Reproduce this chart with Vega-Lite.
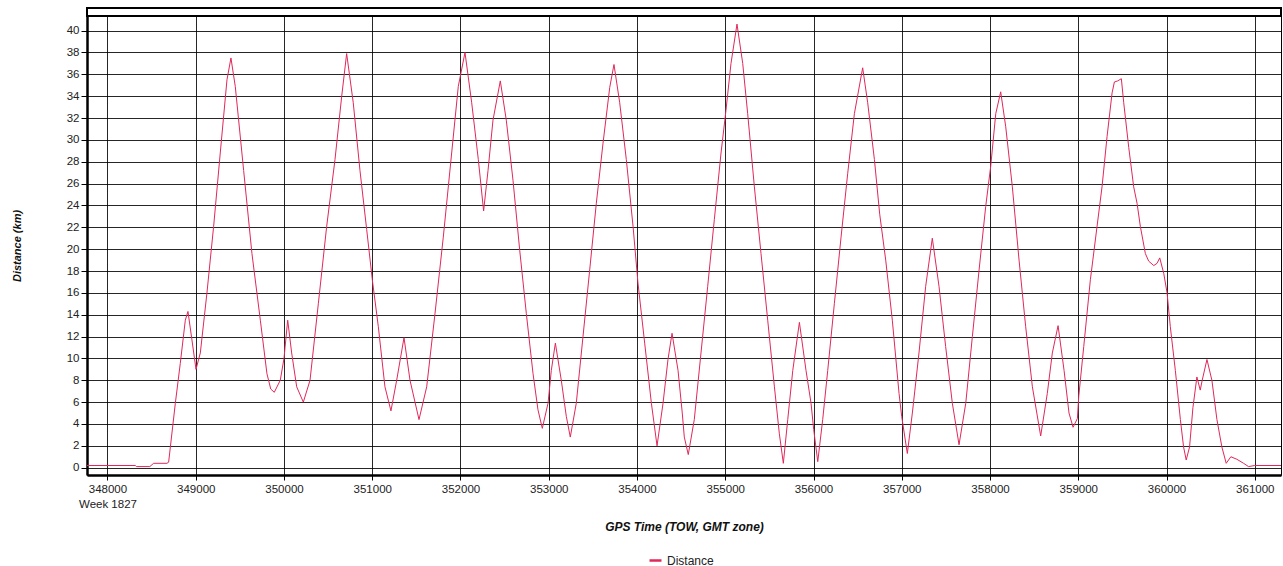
{
  "$schema": "https://vega.github.io/schema/vega-lite/v6.json",
  "autosize": "none",
  "width": 1194,
  "height": 459,
  "padding": {"left": 87, "top": 16, "right": 2, "bottom": 91},
  "background": "white",
  "config": {
    "font": "Liberation Sans",
    "view": {"stroke": "#000", "strokeWidth": 1},
    "axis": {
      "labelFont": "Liberation Sans",
      "labelFontSize": 11.5,
      "labelColor": "#222",
      "labelFlush": false,
      "labelOverlap": false,
      "titleFont": "Liberation Sans",
      "titleFontWeight": "bold",
      "titleFontStyle": "italic",
      "titleColor": "#111",
      "gridColor": "#000",
      "gridOpacity": 0.85,
      "gridWidth": 1,
      "domainColor": "#000",
      "domainWidth": 2.5,
      "tickColor": "#000",
      "tickSize": 6
    }
  },
  "data": {"values": [
    {"t": 347768, "d": 0.2}, {"t": 348315, "d": 0.2}, {"t": 348330, "d": 0.1}, {"t": 348480, "d": 0.1},
    {"t": 348523, "d": 0.4}, {"t": 348674, "d": 0.4}, {"t": 348693, "d": 0.5}, {"t": 348769, "d": 5.9},
    {"t": 348825, "d": 9.55}, {"t": 348882, "d": 13.5}, {"t": 348912, "d": 14.3}, {"t": 348957, "d": 11.7},
    {"t": 349003, "d": 9.0}, {"t": 349052, "d": 10.5}, {"t": 349127, "d": 16.0}, {"t": 349203, "d": 22.1},
    {"t": 349278, "d": 28.8}, {"t": 349354, "d": 35.5}, {"t": 349399, "d": 37.5}, {"t": 349448, "d": 34.9},
    {"t": 349543, "d": 27.2}, {"t": 349637, "d": 19.6}, {"t": 349732, "d": 13.5}, {"t": 349807, "d": 8.6},
    {"t": 349850, "d": 7.2}, {"t": 349890, "d": 6.9}, {"t": 349958, "d": 8.0}, {"t": 350000, "d": 10.0},
    {"t": 350012, "d": 11.0}, {"t": 350042, "d": 13.5}, {"t": 350087, "d": 10.5}, {"t": 350144, "d": 7.4},
    {"t": 350219, "d": 6.0}, {"t": 350295, "d": 8.0}, {"t": 350389, "d": 15.0}, {"t": 350484, "d": 22.1},
    {"t": 350578, "d": 28.2}, {"t": 350654, "d": 34.0}, {"t": 350710, "d": 37.9}, {"t": 350785, "d": 33.4},
    {"t": 350861, "d": 27.2}, {"t": 350937, "d": 21.8}, {"t": 351001, "d": 17.2}, {"t": 351069, "d": 12.9},
    {"t": 351144, "d": 7.4}, {"t": 351212, "d": 5.2}, {"t": 351277, "d": 8.0}, {"t": 351360, "d": 11.9},
    {"t": 351428, "d": 8.0}, {"t": 351530, "d": 4.4}, {"t": 351617, "d": 7.4}, {"t": 351711, "d": 14.1},
    {"t": 351805, "d": 21.1}, {"t": 351900, "d": 28.8}, {"t": 351975, "d": 34.9}, {"t": 352051, "d": 38.0},
    {"t": 352127, "d": 33.4}, {"t": 352202, "d": 28.2}, {"t": 352262, "d": 23.5}, {"t": 352312, "d": 27.2},
    {"t": 352368, "d": 31.8}, {"t": 352451, "d": 35.4}, {"t": 352519, "d": 31.8}, {"t": 352595, "d": 26.3},
    {"t": 352671, "d": 19.9}, {"t": 352746, "d": 14.1}, {"t": 352822, "d": 8.6}, {"t": 352878, "d": 5.3},
    {"t": 352927, "d": 3.6}, {"t": 352992, "d": 5.9}, {"t": 353029, "d": 8.9}, {"t": 353075, "d": 11.4},
    {"t": 353142, "d": 8.0}, {"t": 353199, "d": 4.7}, {"t": 353244, "d": 2.8}, {"t": 353312, "d": 5.9},
    {"t": 353388, "d": 12.0}, {"t": 353464, "d": 18.1}, {"t": 353539, "d": 24.2}, {"t": 353615, "d": 29.7},
    {"t": 353691, "d": 34.8}, {"t": 353739, "d": 36.9}, {"t": 353804, "d": 33.4}, {"t": 353879, "d": 28.2},
    {"t": 353955, "d": 22.1}, {"t": 354011, "d": 16.9}, {"t": 354087, "d": 11.4}, {"t": 354163, "d": 5.9},
    {"t": 354227, "d": 2.0}, {"t": 354295, "d": 5.9}, {"t": 354351, "d": 9.9}, {"t": 354397, "d": 12.3},
    {"t": 354465, "d": 8.9}, {"t": 354513, "d": 5.0}, {"t": 354536, "d": 2.8}, {"t": 354581, "d": 1.2},
    {"t": 354649, "d": 4.4}, {"t": 354725, "d": 10.5}, {"t": 354801, "d": 16.6}, {"t": 354876, "d": 22.7},
    {"t": 354952, "d": 28.8}, {"t": 355008, "d": 32.7}, {"t": 355065, "d": 37.0}, {"t": 355133, "d": 40.6},
    {"t": 355198, "d": 37.0}, {"t": 355254, "d": 32.4}, {"t": 355330, "d": 25.7}, {"t": 355405, "d": 19.6},
    {"t": 355481, "d": 13.5}, {"t": 355557, "d": 7.4}, {"t": 355613, "d": 3.1}, {"t": 355658, "d": 0.4},
    {"t": 355708, "d": 4.4}, {"t": 355765, "d": 8.9}, {"t": 355840, "d": 13.3}, {"t": 355915, "d": 8.9},
    {"t": 355972, "d": 5.9}, {"t": 356002, "d": 3.5}, {"t": 356048, "d": 0.55}, {"t": 356104, "d": 4.4},
    {"t": 356161, "d": 8.9}, {"t": 356236, "d": 15.0}, {"t": 356312, "d": 21.1}, {"t": 356387, "d": 26.9},
    {"t": 356463, "d": 32.4}, {"t": 356557, "d": 36.6}, {"t": 356614, "d": 33.4}, {"t": 356690, "d": 28.2},
    {"t": 356750, "d": 23.2}, {"t": 356818, "d": 19.0}, {"t": 356893, "d": 13.5}, {"t": 356969, "d": 6.8},
    {"t": 356999, "d": 4.7}, {"t": 357063, "d": 1.3}, {"t": 357120, "d": 5.0}, {"t": 357195, "d": 10.5},
    {"t": 357271, "d": 16.6}, {"t": 357346, "d": 21.0}, {"t": 357422, "d": 16.6}, {"t": 357497, "d": 11.1},
    {"t": 357573, "d": 5.9}, {"t": 357649, "d": 2.1}, {"t": 357725, "d": 5.9}, {"t": 357800, "d": 12.0},
    {"t": 357876, "d": 18.1}, {"t": 357951, "d": 23.9}, {"t": 358008, "d": 27.6}, {"t": 358065, "d": 32.4},
    {"t": 358121, "d": 34.4}, {"t": 358178, "d": 31.2}, {"t": 358253, "d": 25.7}, {"t": 358329, "d": 19.0},
    {"t": 358404, "d": 12.9}, {"t": 358480, "d": 7.4}, {"t": 358574, "d": 2.9}, {"t": 358649, "d": 6.8},
    {"t": 358706, "d": 10.5}, {"t": 358771, "d": 13.0}, {"t": 358839, "d": 8.9}, {"t": 358895, "d": 5.0},
    {"t": 358941, "d": 3.7}, {"t": 358990, "d": 4.5}, {"t": 359005, "d": 6.5}, {"t": 359062, "d": 11.1},
    {"t": 359137, "d": 17.2}, {"t": 359213, "d": 22.1}, {"t": 359269, "d": 25.7}, {"t": 359326, "d": 30.3},
    {"t": 359383, "d": 34.3}, {"t": 359409, "d": 35.3}, {"t": 359447, "d": 35.4}, {"t": 359488, "d": 35.6},
    {"t": 359515, "d": 33.4}, {"t": 359572, "d": 29.3}, {"t": 359628, "d": 25.7}, {"t": 359666, "d": 24.2},
    {"t": 359703, "d": 22.1}, {"t": 359760, "d": 19.6}, {"t": 359798, "d": 18.9}, {"t": 359855, "d": 18.5},
    {"t": 359892, "d": 18.7}, {"t": 359923, "d": 19.2}, {"t": 359968, "d": 17.8}, {"t": 360006, "d": 16.0},
    {"t": 360043, "d": 12.9}, {"t": 360100, "d": 8.9}, {"t": 360157, "d": 4.4}, {"t": 360193, "d": 1.9},
    {"t": 360223, "d": 0.7}, {"t": 360261, "d": 1.9}, {"t": 360299, "d": 5.5}, {"t": 360344, "d": 8.3},
    {"t": 360382, "d": 7.1}, {"t": 360404, "d": 8.0}, {"t": 360458, "d": 9.9}, {"t": 360514, "d": 8.0},
    {"t": 360571, "d": 4.4}, {"t": 360627, "d": 1.9}, {"t": 360676, "d": 0.4}, {"t": 360729, "d": 1.0},
    {"t": 360797, "d": 0.77}, {"t": 360873, "d": 0.4}, {"t": 360929, "d": 0.1}, {"t": 361000, "d": 0.2},
    {"t": 361297, "d": 0.2}
  ]},
  "layer": [
    {
      "mark": {"type": "rect", "fill": null, "stroke": "#000", "strokeWidth": 2},
      "encoding": {
        "x": {"datum": 347768, "type": "quantitative"},
        "x2": {"datum": 361297},
        "y": {"datum": 41.34, "type": "quantitative"},
        "y2": {"datum": 42.07}
      }
    },
    {
      "mark": {"type": "line", "strokeWidth": 1, "interpolate": "linear"},
      "encoding": {
        "x": {
          "field": "t", "type": "quantitative",
          "scale": {"domain": [347768, 361297], "nice": false, "zero": false},
          "axis": {
            "title": "GPS Time (TOW, GMT zone)",
            "titleFontSize": 12,
            "titlePadding": 12,
            "values": [348000, 349000, 350000, 351000, 352000, 353000, 354000, 355000, 356000, 357000, 358000, 359000, 360000, 361000],
            "tickCount": 30,
            "format": "d",
            "labelPadding": 3,
            "tickSize": 5,
            "labelOverlap": false,
            "labelLineHeight": 15,
            "labelExpr": "datum.value == 348000 ? ['348000', 'Week 1827'] : datum.label",
            "grid": true
          }
        },
        "y": {
          "field": "d", "type": "quantitative",
          "scale": {"domain": [-0.67, 41.34], "nice": false, "zero": false},
          "axis": {
            "title": "Distance (km)",
            "titleFontSize": 11,
            "titlePadding": 44,
            "values": [0, 2, 4, 6, 8, 10, 12, 14, 16, 18, 20, 22, 24, 26, 28, 30, 32, 34, 36, 38, 40],
            "tickCount": 30,
            "format": "d",
            "labelPadding": 2,
            "labelOverlap": false,
            "grid": true
          }
        },
        "color": {
          "datum": "Distance",
          "type": "nominal",
          "scale": {"range": ["#E0285A"]},
          "legend": {
            "title": null,
            "orient": "none",
            "legendX": 561,
            "legendY": 537,
            "padding": 0,
            "symbolType": "stroke",
            "symbolSize": 144,
            "symbolStrokeWidth": 2.5,
            "labelFontSize": 12,
            "labelFont": "Liberation Sans",
            "labelColor": "#222",
            "labelOffset": 4
          }
        }
      }
    }
  ]
}
